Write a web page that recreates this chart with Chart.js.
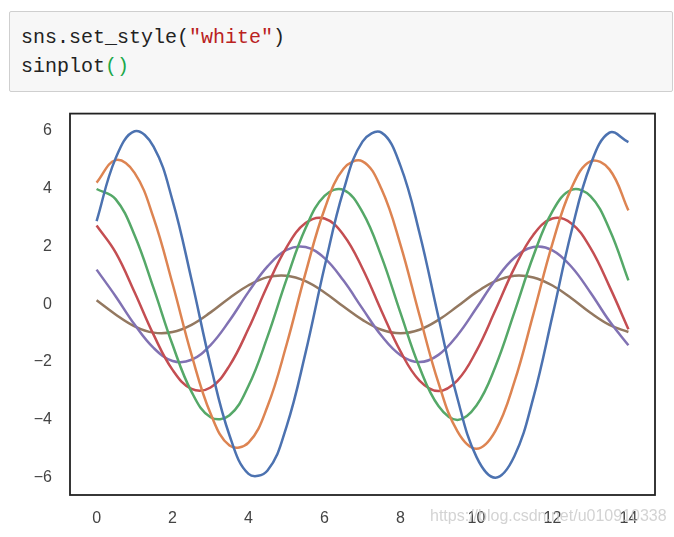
<!DOCTYPE html>
<html lang="en">
<head>
    <meta charset="UTF-8">
    <title>sinplot</title>
    <script src="https://cdn.jsdelivr.net/npm/chart.js"></script>
    <style>
        body {
            margin: 0;
            width: 674px;
            height: 537px;
            background: white;
            position: relative;
            overflow: hidden;
        }
        .cell {
            position: absolute;
            left: 9px;
            top: 11px;
            width: 664px;
            height: 81px;
            background-color: #f7f7f7;
            border: 1px solid #cfcfcf;
            border-radius: 2px;
            box-sizing: border-box;
            font-family: "Liberation Mono", monospace;
            font-size: 20px;
            line-height: 29px;
            padding: 11px 0 0 11px;
            color: #222;
            white-space: pre;
        }
        .str { color: #ba2121; }
        .brk { color: #1aa84a; }
        .chart-box {
            position: absolute;
            left: 0;
            top: 86px;
            width: 674px;
            height: 451px;
        }
        .mark {
            position: absolute;
            left: 430px;
            top: 507px;
            font-family: Arial, "Liberation Sans", sans-serif;
            font-size: 16px;
            color: rgba(200, 200, 200, 0.8);
            white-space: nowrap;
        }
    </style>
</head>
<body>
    <div class="cell">sns.set_style(<span class="str">"white"</span>)
sinplot<span class="brk">()</span></div>
    <div class="chart-box">
        <canvas id="sinChart" width="674" height="451"></canvas>
    </div>
    <div class="mark">https://blog.csdn.net/u010910338</div>
    <script>
        // x positions (step 0.5 from 0 to 14)
        const xs = [0, 0.5, 1, 1.5, 2, 2.5, 3, 3.5, 4, 4.5, 5, 5.5, 6, 6.5, 7,
                    7.5, 8, 8.5, 9, 9.5, 10, 10.5, 11, 11.5, 12, 12.5, 13, 13.5, 14];

        // values
        const line1 = [2.88, 5.05, 5.99, 5.46, 3.59, 0.85, -2.10, -4.54, -5.87, -5.75, -4.23, -1.68, 1.29, 3.94, 5.63,
                       5.94, 4.79, 2.47, -0.45, -3.26, -5.28, -6.00, -5.25, -3.22, -0.40, 2.52, 4.82, 5.94, 5.61];
        const line2 = [4.21, 4.99, 4.55, 2.99, 0.71, -1.75, -3.78, -4.89, -4.79, -3.53, -1.40, 1.08, 3.29, 4.69, 4.95,
                       3.99, 2.06, -0.38, -2.72, -4.40, -5.00, -4.38, -2.68, -0.33, 2.10, 4.02, 4.95, 4.67, 3.25];
        const line3 = [3.99, 3.64, 2.39, 0.56, -1.40, -3.03, -3.91, -3.84, -2.82, -1.12, 0.86, 2.63, 3.75, 3.96, 3.19,
                       1.65, -0.30, -2.18, -3.52, -4.00, -3.50, -2.15, -0.27, 1.68, 3.22, 3.96, 3.74, 2.60, 0.83];
        const line4 = [2.73, 1.80, 0.42, -1.05, -2.27, -2.93, -2.88, -2.12, -0.84, 0.65, 1.97, 2.81, 2.97, 2.40, 1.24,
                       -0.23, -1.63, -2.64, -3.00, -2.63, -1.61, -0.20, 1.26, 2.41, 2.97, 2.80, 1.95, 0.62, -0.86];
        const line5 = [1.20, 0.28, -0.70, -1.51, -1.96, -1.92, -1.41, -0.56, 0.43, 1.31, 1.88, 1.98, 1.60, 0.82, -0.15,
                       -1.09, -1.76, -2.00, -1.75, -1.07, -0.13, 0.84, 1.61, 1.98, 1.87, 1.30, 0.41, -0.58, -1.42];
        const line6 = [0.14, -0.35, -0.76, -0.98, -0.96, -0.71, -0.28, 0.22, 0.66, 0.94, 0.99, 0.80, 0.41, -0.08, -0.54,
                       -0.88, -1.00, -0.88, -0.54, -0.07, 0.42, 0.80, 0.99, 0.93, 0.65, 0.21, -0.29, -0.71, -0.96];

        const xTicks = [0, 2, 4, 6, 8, 10, 12, 14];
        const yTicks = [-6, -4, -2, 0, 2, 4, 6];

        const colors = ['#4c72b0', '#dd8452', '#55a868', '#c44e52', '#8172b3', '#937860'];
        const series = [line1, line2, line3, line4, line5, line6];

        const datasets = series.map((vals, i) => ({
            data: vals.map((v, j) => ({ x: xs[j], y: v })),
            borderColor: colors[i],
            borderWidth: 2.5,
            pointRadius: 0,
            tension: 0.4,
            fill: false
        }));

        // black frame around the plot area
        const frame = {
            id: 'frame',
            afterDraw(chart) {
                const a = chart.chartArea;
                const c = chart.ctx;
                c.save();
                c.strokeStyle = '#222';
                c.lineWidth = 1.8;
                c.strokeRect(a.left, a.top, a.right - a.left, a.bottom - a.top);
                c.restore();
            }
        };

        const tickFont = { family: 'Arial, "Liberation Sans", sans-serif', size: 16 };

        new Chart(document.getElementById('sinChart'), {
            type: 'line',
            data: { datasets: datasets },
            options: {
                responsive: false,
                animation: false,
                layout: { padding: { top: 0, right: 19, left: 0, bottom: 0 } },
                plugins: { legend: { display: false }, tooltip: { enabled: false } },
                scales: {
                    x: {
                        type: 'linear',
                        min: -0.7,
                        max: 14.7,
                        grid: { display: false, drawTicks: false },
                        border: { display: false },
                        afterBuildTicks: s => { s.ticks = xTicks.map(v => ({ value: v })); },
                        afterFit: s => { s.height = 42; },
                        ticks: { color: '#444', font: tickFont, padding: 14, maxRotation: 0 }
                    },
                    y: {
                        min: -6.6,
                        max: 6.6,
                        grid: { display: false, drawTicks: false },
                        border: { display: false },
                        afterBuildTicks: s => { s.ticks = yTicks.map(v => ({ value: v })); },
                        afterFit: s => { s.width = 70; },
                        ticks: {
                            color: '#444',
                            font: tickFont,
                            padding: 18,
                            callback: v => String(v).replace('-', '\u2212')
                        }
                    }
                }
            },
            plugins: [frame]
        });
    </script>
</body>
</html>
